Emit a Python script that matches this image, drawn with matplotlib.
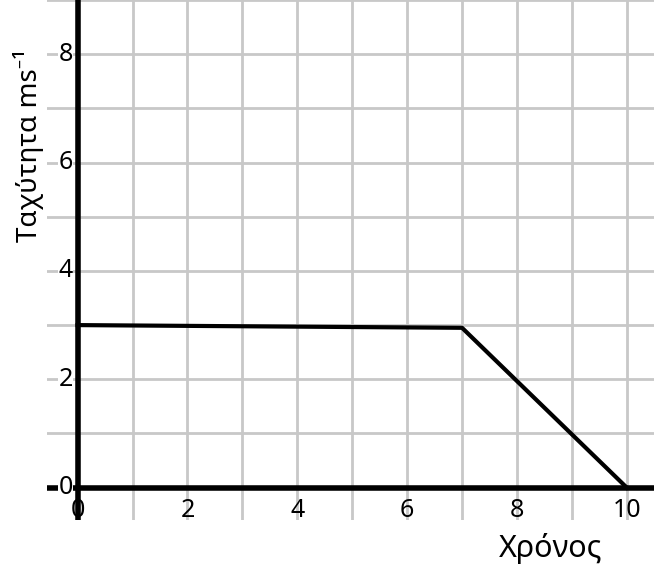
import matplotlib
matplotlib.use("Agg")
import matplotlib.pyplot as plt

plt.rcParams['font.family'] = ['Noto Sans', 'DejaVu Sans']

# speed-time data
time = [0, 7, 10]
speed = [3.0, 2.95, 0.0]

x_ticks = [0, 2, 4, 6, 8, 10]
y_ticks = [0, 2, 4, 6, 8]
grid_x = list(range(0, 11))
grid_y = list(range(0, 10))

fig = plt.figure(figsize=(6.69, 5.66), dpi=100)
ax = fig.add_axes([0.070, 0.081, 0.908, 0.919])
ax.set_xlim(-0.56, 10.5)
ax.set_ylim(-0.6, 9.0)

for gx in grid_x:
    ax.axvline(gx, color="#c8c8c8", lw=2, zorder=1)
for gy in grid_y:
    ax.axhline(gy, color="#c8c8c8", lw=2, zorder=1)

# thick axes through the origin
ax.axhline(0, color="black", lw=4, zorder=3)
ax.axvline(0, color="black", lw=4, zorder=3)

ax.plot(time, speed, color="black", lw=3, zorder=4)

for t in x_ticks:
    ax.text(t, -0.42, str(t), ha="center", va="center", fontsize=18, zorder=5)
for v in y_ticks:
    ax.text(-0.22, v, str(v), ha="center", va="center", fontsize=18, zorder=5,
            bbox=dict(facecolor="white", edgecolor="none", pad=0.2))

for s in ax.spines.values():
    s.set_visible(False)
ax.set_xticks([])
ax.set_yticks([])

fig.text(29 / 669, 1 - 145 / 566, "Ταχύτητα ms⁻¹", rotation=90,
         ha="center", va="center", fontsize=20)
fig.text(551 / 669, 1 - 549 / 566, "Χρόνος", ha="center", va="center", fontsize=22)

fig.savefig("out.png", dpi=100)
